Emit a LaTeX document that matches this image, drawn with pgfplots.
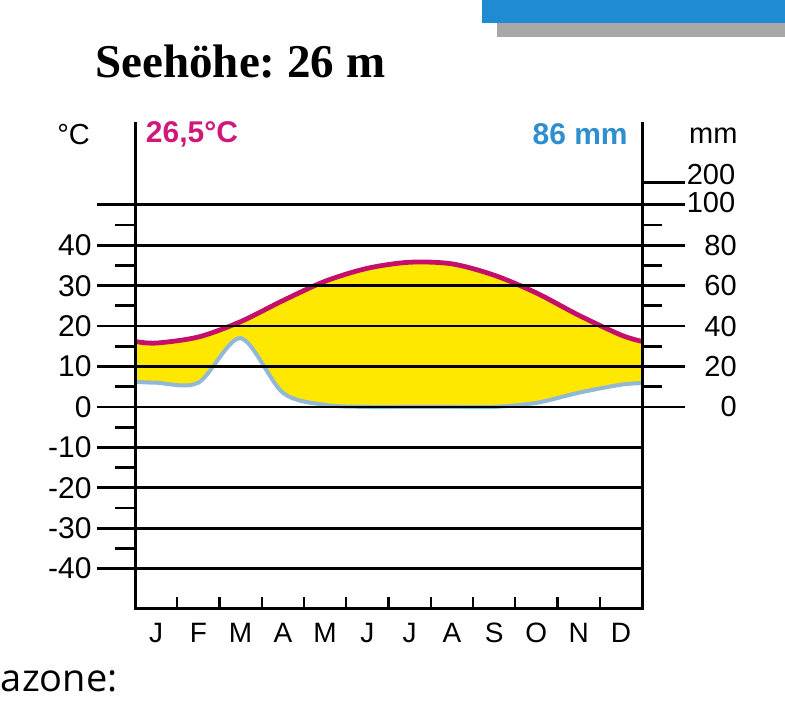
\documentclass[border=0pt]{standalone}
\usepackage{fontspec}
\setmainfont{Liberation Sans}
\newfontfamily\titlefont{Liberation Serif}
\newfontfamily\bodyfont{Open Sans}
\usepackage{pgfplots}
\usepackage{pgfplotstable}
\pgfplotsset{compat=1.18}
\usepgfplotslibrary{fillbetween}

\definecolor{templine}{HTML}{C4106A}
\definecolor{temptext}{HTML}{D0187A}
\definecolor{precline}{HTML}{93B8D6}
\definecolor{prectext}{HTML}{2E8FCF}
\definecolor{aridfill}{HTML}{FFE800}
\definecolor{bannerblue}{HTML}{1E8BD2}
\definecolor{bannergray}{HTML}{A8A8A8}

\tikzset{lbl/.style={font=\fontsize{14.5pt}{17pt}\selectfont, inner sep=0pt}}

% month position, mean temperature (°C), precipitation (mm)
\pgfplotstableread{
m    temp  prec
0    16.2  12.4
0.5  15.8  12
1.5  17.3  12
2.5  21.1  34
3.5  26.3  7
4.5  31.1  1
5.5  34.3  0
6.5  35.8  0
7.5  35.4  0
8.5  32.6  0
9.5  28.2  2
10.5 22.7  7
11.5 17.8  11
12   16.2  11.8
}\climate

\begin{document}
\frenchspacing
\begin{tikzpicture}[x=0.5pt,y=0.5pt]
% banner at top right
\fill[bannergray] (497,663) rectangle (785,677);
\fill[bannerblue] (482,677) rectangle (785,700);

\node[anchor=base west, inner sep=0pt,
      font=\titlefont\bfseries\fontsize{23.5pt}{28pt}\selectfont]
  at (95,622) {Seehöhe: 26 m};
\node[anchor=base east, inner sep=0pt,
      font=\bodyfont\fontsize{19pt}{24pt}\selectfont]
  at (118,9) {azone:};

\begin{axis}[
  at={(67.5pt,45.5pt)}, anchor=south west,
  scale only axis, width=253.5pt, height=243.5pt,
  xmin=0, xmax=12, ymin=-50, ymax=70.5,
  clip=false,
  axis line style={draw=none},
  major tick length=0pt,
  xtick={0.5,1.5,...,11.5},
  xticklabels={J,F,M,A,M,J,J,A,S,O,N,D},
  xticklabel style={anchor=base, inner sep=0pt, yshift=-16.5pt,
                    font=\fontsize{14pt}{16pt}\selectfont},
  ytick={-40,-30,...,40},
  yticklabels={-40,-30,-20,-10,0,10,20,30,40},
  yticklabel style={anchor=east, inner sep=0pt, xshift=-21.5pt,
                    font=\fontsize{15pt}{18pt}\selectfont},
]
% curves as paths for the arid fill
\addplot[draw=none, smooth, name path=T] table[x=m, y=temp] {\climate};
\addplot[draw=none, smooth, name path=P] table[x=m, y expr=\thisrow{prec}/2] {\climate};
\addplot[fill=aridfill, draw=none] fill between[of=T and P];

\addplot[templine, line width=2.4pt, smooth] table[x=m, y=temp] {\climate};
\addplot[precline, line width=2pt, smooth] table[x=m, y expr=\thisrow{prec}/2] {\climate};

% horizontal lines
\pgfplotsinvokeforeach{0,10,...,50}{
  \draw[line width=1.4pt] (axis cs:-0.9,#1) -- (axis cs:13.02,#1);
}
\pgfplotsinvokeforeach{-40,-30,...,-10}{
  \draw[line width=1.4pt] (axis cs:-0.9,#1) -- (axis cs:12,#1);
}
\draw[line width=1.4pt] (axis cs:12,55.5) -- (axis cs:13.02,55.5);
% minor ticks
\pgfplotsinvokeforeach{-35,-25,...,45}{
  \draw[line width=1.4pt] (axis cs:-0.47,#1) -- (axis cs:0,#1);
}
\pgfplotsinvokeforeach{5,15,...,45}{
  \draw[line width=1.4pt] (axis cs:12,#1) -- (axis cs:12.47,#1);
}
% month ticks
\pgfplotsinvokeforeach{1,...,11}{
  \draw[line width=1.2pt] (axis cs:#1,-50) -- (axis cs:#1,-47);
}
% axis frame
\draw[line width=1.5pt] (axis cs:0,70.5) -- (axis cs:0,-50) -- (axis cs:12,-50) -- (axis cs:12,70.5);

% right-hand mm scale and headings
\node[lbl, anchor=west] at (axis cs:13.05,57.5) {200};
\node[lbl, anchor=west] at (axis cs:13.05,50.5) {100};
\node[lbl, anchor=east] at (axis cs:14.25,40) {80};
\node[lbl, anchor=east] at (axis cs:14.25,30) {60};
\node[lbl, anchor=east] at (axis cs:14.25,20) {40};
\node[lbl, anchor=east] at (axis cs:14.25,10) {20};
\node[lbl, anchor=east] at (axis cs:14.25,0) {0};
\node[lbl, anchor=east] at (axis cs:14.27,67.2) {mm};
\node[lbl, anchor=east] at (axis cs:-1.06,67.5) {°C};
\node[lbl, anchor=west, text=temptext, font=\bfseries\fontsize{15pt}{18pt}\selectfont] at (axis cs:0.25,67.4) {26,5°C};
\node[lbl, anchor=east, text=prectext, font=\bfseries\fontsize{15pt}{18pt}\selectfont] at (axis cs:11.67,67.4) {86 mm};
\end{axis}

\pgfresetboundingbox
\useasboundingbox (0,0) rectangle (785,700);
\end{tikzpicture}
\end{document}
